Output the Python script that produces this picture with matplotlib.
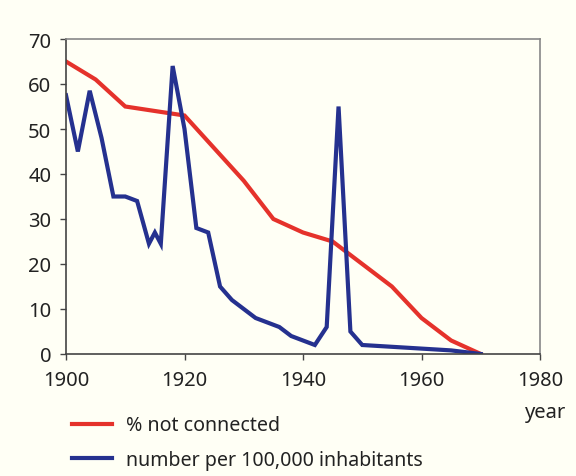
import matplotlib
matplotlib.use("Agg")
import matplotlib.pyplot as plt
from matplotlib.lines import Line2D

# data
red_years = [1900, 1905, 1910, 1920, 1930, 1935, 1940, 1945, 1955, 1960, 1965, 1970]
red_values = [65, 61, 55, 53, 38.5, 30, 27, 25, 15, 8, 3, 0]

blue_years = [1900, 1902, 1904, 1906, 1908, 1910, 1912, 1914, 1915, 1916, 1918, 1920,
              1922, 1924, 1926, 1928, 1930, 1932, 1936, 1938, 1942, 1944, 1946, 1948,
              1950, 1965, 1970]
blue_values = [57.5, 45, 58.5, 48, 35, 35, 34, 24.5, 27, 24.5, 64, 50,
               28, 27, 15, 12, 10, 8, 6, 4, 2, 6, 55, 5,
               2, 0.8, 0]

xticks = [1900, 1920, 1940, 1960, 1980]
yticks = [0, 10, 20, 30, 40, 50, 60, 70]
legend_labels = ["% not connected", "number per 100,000 inhabitants"]

bg = "#FFFFF5"
red = "#E5322B"
blue = "#25318F"
fs = 14.5
lfs = 14.1

plt.rcParams['font.family'] = ['Noto Sans', 'DejaVu Sans']
fig = plt.figure(figsize=(5.76, 4.77), dpi=100, facecolor=bg)
ax = fig.add_axes([66/576, 1-355/477, (540-66)/576, (355-40)/477])
ax.set_facecolor(bg)

ax.plot(red_years, red_values, color=red, lw=3, solid_joinstyle='miter')
ax.plot(blue_years, blue_values, color=blue, lw=3, solid_joinstyle='miter')

ax.set_xlim(1900, 1980)
ax.set_ylim(0, 70)
ax.set_xticks(xticks)
ax.set_yticks(yticks)
ax.tick_params(direction='out', length=4.5, width=1, colors='#444444', labelsize=fs,
               labelcolor='#222222')
ax.tick_params(axis='x', pad=7)
ax.tick_params(axis='y', pad=6)
for s in ['left', 'bottom']:
    ax.spines[s].set_color('#444444')
    ax.spines[s].set_linewidth(1.2)
for s in ['top', 'right']:
    ax.spines[s].set_color('#888888')
    ax.spines[s].set_linewidth(1.2)

fig.text(566/576, 1-413/477, "year", ha='right', va='center', fontsize=fs, color='#222222')

handles = [Line2D([], [], color=red, lw=3), Line2D([], [], color=blue, lw=3)]
leg = fig.legend(handles, legend_labels, loc='center left', bbox_to_anchor=(72/576, 1-443.5/477),
                 frameon=False, fontsize=lfs, handlelength=2.05, handletextpad=0.7,
                 labelspacing=0.72, borderaxespad=0, borderpad=0)
for t in leg.get_texts():
    t.set_color('#222222')

fig.savefig("out.png", dpi=100, facecolor=bg)
